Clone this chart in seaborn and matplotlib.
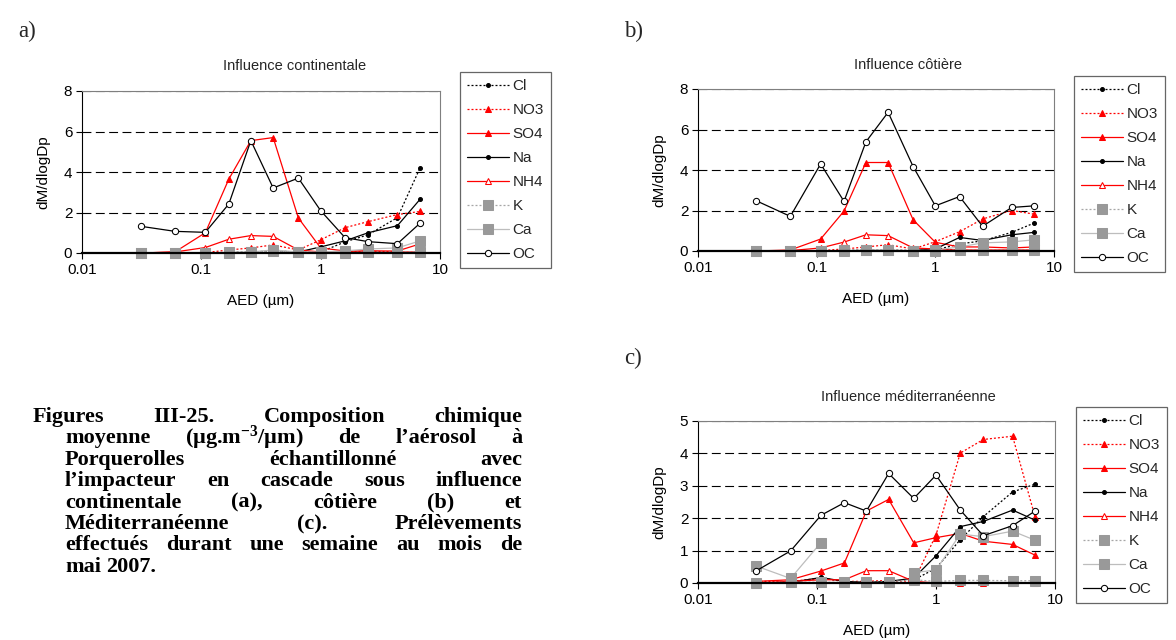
import numpy as np
import matplotlib
matplotlib.use("Agg")
import matplotlib.pyplot as plt
from matplotlib.ticker import FixedLocator, NullLocator
import seaborn as sns

# ── data ────────────────────────────────────────────────────────
AED = [0.031, 0.06, 0.108, 0.17, 0.26, 0.4, 0.65, 1.0, 1.6, 2.5, 4.4, 6.8]
SPECIES = ["Cl", "NO3", "SO4", "Na", "NH4", "K", "Ca", "OC"]

# a) influence continentale
cl_a = [0.0, 0.0, 0.0, 0.03, 0.05, 0.10, 0.05, 0.05, 0.55, 0.90, 1.75, 4.20]
no3_a = [0.0, 0.0, 0.02, 0.15, 0.25, 0.40, 0.15, 0.65, 1.25, 1.55, 1.90, 2.05]
so4_a = [0.0, 0.05, 1.00, 3.65, 5.55, 5.70, 1.73, 0.25, 0.10, 0.10, 0.10, 0.45]
na_a = [0.0, 0.0, 0.0, 0.0, 0.0, 0.02, 0.05, 0.30, 0.60, 1.00, 1.35, 2.65]
nh4_a = [0.0, 0.05, 0.27, 0.68, 0.86, 0.82, 0.15, 0.05, 0.05, 0.10, 0.05, 0.05]
k_a = [0.0, 0.0, 0.0, 0.02, 0.05, 0.10, 0.05, 0.02, 0.02, 0.05, 0.05, 0.05]
ca_a = [0.0, 0.0, 0.0, 0.03, 0.05, 0.15, 0.05, 0.05, 0.10, 0.20, 0.25, 0.60]
oc_a = [1.32, 1.07, 1.02, 2.42, 5.55, 3.21, 3.70, 2.09, 0.76, 0.56, 0.46, 1.47]

# b) influence côtière
cl_b = [0.0, 0.0, 0.0, 0.02, 0.05, 0.05, 0.02, 0.05, 0.35, 0.50, 0.92, 1.38]
no3_b = [0.0, 0.0, 0.02, 0.10, 0.20, 0.31, 0.10, 0.46, 0.95, 1.58, 2.00, 1.82]
so4_b = [0.0, 0.05, 0.59, 1.97, 4.37, 4.37, 1.54, 0.43, 0.20, 0.20, 0.15, 0.20]
na_b = [0.0, 0.0, 0.0, 0.0, 0.0, 0.0, 0.02, 0.10, 0.67, 0.52, 0.80, 0.92]
nh4_b = [0.0, 0.02, 0.15, 0.44, 0.80, 0.76, 0.15, 0.10, 0.05, 0.05, 0.05, 0.05]
k_b = [0.0, 0.0, 0.0, 0.03, 0.05, 0.05, 0.02, 0.02, 0.05, 0.05, 0.05, 0.05]
ca_b = [0.0, 0.0, 0.0, 0.0, 0.05, 0.05, 0.0, 0.05, 0.20, 0.40, 0.45, 0.55]
oc_b = [2.48, 1.71, 4.30, 2.45, 5.39, 6.85, 4.17, 2.23, 2.69, 1.22, 2.15, 2.23]

# c) influence méditerranéenne (Ca missing on three stages)
cl_c = [0.0, 0.02, 0.15, 0.05, 0.02, 0.05, 0.10, 0.45, 1.34, 2.05, 2.81, 3.05]
no3_c = [0.05, 0.05, 0.15, 0.05, 0.05, 0.08, 0.05, 1.48, 4.01, 4.43, 4.53, 2.04]
so4_c = [0.05, 0.10, 0.37, 0.62, 2.22, 2.58, 1.24, 1.40, 1.53, 1.29, 1.19, 0.86]
na_c = [0.0, 0.02, 0.17, 0.05, 0.02, 0.05, 0.15, 0.84, 1.74, 1.90, 2.25, 1.94]
nh4_c = [0.0, 0.05, 0.10, 0.10, 0.38, 0.38, 0.05, 0.0, 0.0, 0.0, 0.0, 0.0]
k_c = [0.0, 0.03, 0.02, 0.02, 0.02, 0.04, 0.10, 0.05, 0.08, 0.08, 0.07, 0.07]
ca_c = [0.52, 0.14, 1.25, np.nan, np.nan, np.nan, 0.32, 0.40, 1.51, 1.43, 1.60, 1.32]
oc_c = [0.38, 0.99, 2.09, 2.48, 2.22, 3.38, 2.61, 3.33, 2.25, 1.46, 1.77, 2.22]

PANELS = [
    ("a)", "Influence continentale", [cl_a, no3_a, so4_a, na_a, nh4_a, k_a, ca_a, oc_a], 8, 2),
    ("b)", "Influence côtière", [cl_b, no3_b, so4_b, na_b, nh4_b, k_b, ca_b, oc_b], 8, 2),
    ("c)", "Influence méditerranéenne", [cl_c, no3_c, so4_c, na_c, nh4_c, k_c, ca_c, oc_c], 5, 1),
]
X_TICKS = [0.01, 0.1, 1, 10]
X_TICKLABELS = ["0.01", "0.1", "1", "10"]

CAPTION = [
    ["Figures", "III-25.", "Composition", "chimique"],
    ["moyenne", "(µg.m$^{-3}$/µm)", "de", "l’aérosol", "à"],
    ["Porquerolles", "échantillonné", "avec"],
    ["l’impacteur", "en", "cascade", "sous", "influence"],
    ["continentale", "(a),", "côtière", "(b)", "et"],
    ["Méditerranéenne", "(c).", "Prélèvements"],
    ["effectués", "durant", "une", "semaine", "au", "mois", "de"],
    ["mai", "2007."],
]

# ── styles ──────────────────────────────────────────────────────
DOT = (0, (1.6, 1.6))
STYLE = {
    "Cl": dict(color="black", linestyle=DOT, marker="o", markersize=2.8,
               markerfacecolor="black", markeredgecolor="black"),
    "NO3": dict(color="red", linestyle=DOT, marker="^", markersize=4.5,
                markerfacecolor="red", markeredgecolor="red"),
    "SO4": dict(color="red", linestyle="-", marker="^", markersize=4.5,
                markerfacecolor="red", markeredgecolor="red"),
    "Na": dict(color="black", linestyle="-", marker="o", markersize=2.8,
               markerfacecolor="black", markeredgecolor="black"),
    "NH4": dict(color="red", linestyle="-", marker="^", markersize=4.5,
                markerfacecolor="white", markeredgecolor="red"),
    "K": dict(color="#a6a6a6", linestyle=DOT, marker="s", markersize=6.5,
              markerfacecolor="#999999", markeredgecolor="#999999"),
    "Ca": dict(color="#bdbdbd", linestyle="-", marker="s", markersize=6.5,
               markerfacecolor="#999999", markeredgecolor="#999999"),
    "OC": dict(color="black", linestyle="-", marker="o", markersize=4.5,
               markerfacecolor="white", markeredgecolor="black"),
}

sns.set_theme(style="white")
plt.rcParams["font.family"] = ["Liberation Sans", "DejaVu Sans"]
plt.rcParams.update({
    "mathtext.fontset": "custom",
    "mathtext.rm": "Liberation Serif:bold",
    "mathtext.bf": "Liberation Serif:bold",
    "mathtext.default": "rm",
})

W, H = 1176, 640
fig = plt.figure(figsize=(W / 100, H / 100), dpi=100)
fig.patch.set_facecolor("white")


def px_axes(left, top, right, bottom):
    return fig.add_axes([left / W, 1 - bottom / H, (right - left) / W, (bottom - top) / H])


# pixel boxes: axes, legend anchor, title centre, panel letter
LAYOUT = [
    dict(ax=(82, 91, 440, 253), leg=(460, 72), title=(295, 66), letter=(18, 31)),
    dict(ax=(698, 89, 1054, 251), leg=(1074, 76), title=(908, 65), letter=(624, 31)),
    dict(ax=(698, 421, 1055, 583), leg=(1076, 407), title=(908, 397), letter=(624, 358)),
]

for (letter, title, series, ymax, ystep), lay in zip(PANELS, LAYOUT):
    ax = px_axes(*lay["ax"])
    ax.set_xscale("log")
    for name, vals in zip(SPECIES, series):
        y = np.asarray(vals, dtype=float)
        x = np.asarray(AED)
        ok = ~np.isnan(y)
        # split on missing stages so the line breaks there
        runs = np.split(np.arange(len(y)), np.where(np.diff(ok))[0] + 1)
        first = True
        for r in runs:
            if not ok[r[0]]:
                continue
            sns.lineplot(x=x[r], y=y[r], ax=ax, linewidth=0.9, clip_on=False,
                         label=name if first else "_nolegend_",
                         **STYLE[name])
            first = False
    if ax.get_legend() is not None:
        ax.get_legend().remove()

    ax.set_xlim(0.01, 10)
    ax.set_ylim(0, ymax)
    ax.xaxis.set_major_locator(FixedLocator(X_TICKS))
    ax.xaxis.set_minor_locator(NullLocator())
    ax.set_xticklabels(X_TICKLABELS)
    ax.set_yticks(np.arange(0, ymax + 1, ystep))
    ax.yaxis.grid(True, linestyle=(0, (8, 4)), color="black", linewidth=0.8)
    ax.xaxis.grid(False)
    ax.tick_params(axis="both", direction="out", length=4, width=0.8,
                   labelsize=11, colors="black", bottom=True, left=True, pad=3)
    for side in ("top", "right"):
        ax.spines[side].set_color("#7f7f7f")
        ax.spines[side].set_linewidth(0.8)
    ax.spines["left"].set_color("black")
    ax.spines["left"].set_linewidth(0.8)
    ax.spines["bottom"].set_color("black")
    ax.spines["bottom"].set_linewidth(1.6)

    ax.set_xlabel("AED (µm)", fontsize=11, color="black")
    ax.set_ylabel("dM/dlogDp", fontsize=11, color="black")
    axh = lay["ax"][3] - lay["ax"][1]
    axw = lay["ax"][2] - lay["ax"][0]
    ax.xaxis.set_label_coords(0.5, -(41 / axh))
    ax.yaxis.set_label_coords(-(32 / axw), 0.5)

    tx, ty = lay["title"]
    fig.text(tx / W, 1 - ty / H, title, ha="center", va="center", fontsize=10.5)
    lx, ly = lay["letter"]
    fig.text(lx / W, 1 - ly / H, letter, ha="left", va="center", fontsize=16.5,
             family="Liberation Serif")

    handles, labels = ax.get_legend_handles_labels()
    gx, gy = lay["leg"]
    leg = fig.legend(handles, labels, loc="upper left",
                     bbox_to_anchor=(gx / W, 1 - gy / H), bbox_transform=fig.transFigure,
                     borderaxespad=0, fontsize=11, frameon=True, fancybox=False,
                     edgecolor="#404040", borderpad=0.45, handlelength=2.75,
                     handletextpad=0.25, labelspacing=0.66, numpoints=1)
    leg.get_frame().set_linewidth(0.9)

# ── justified caption ───────────────────────────────────────────
CAP_LEFT0, CAP_LEFT, CAP_RIGHT = 33, 65, 522
CAP_Y0, CAP_STEP = 417, 21.4
cap_kw = dict(fontsize=16, fontweight="bold", family="Liberation Serif",
              va="baseline", ha="left", color="black")
renderer = fig.canvas.get_renderer()
probe2 = fig.text(0, 0, "a a", **cap_kw)
probe1 = fig.text(0, 0, "a", **cap_kw)
space = probe2.get_window_extent(renderer).width - 2 * probe1.get_window_extent(renderer).width
probe2.remove()
probe1.remove()

for i, words in enumerate(CAPTION):
    y = 1 - (CAP_Y0 + i * CAP_STEP + 5) / H
    left = CAP_LEFT0 if i == 0 else CAP_LEFT
    texts = [fig.text(0, y, w, **cap_kw) for w in words]
    widths = [t.get_window_extent(renderer).width for t in texts]
    if i < len(CAPTION) - 1:
        gap = (CAP_RIGHT - left - sum(widths)) / (len(words) - 1)
    else:
        gap = space
    x = left
    for t, w in zip(texts, widths):
        t.set_x(x / W)
        x += w + gap

fig.savefig("out.png", dpi=100, facecolor="white")
